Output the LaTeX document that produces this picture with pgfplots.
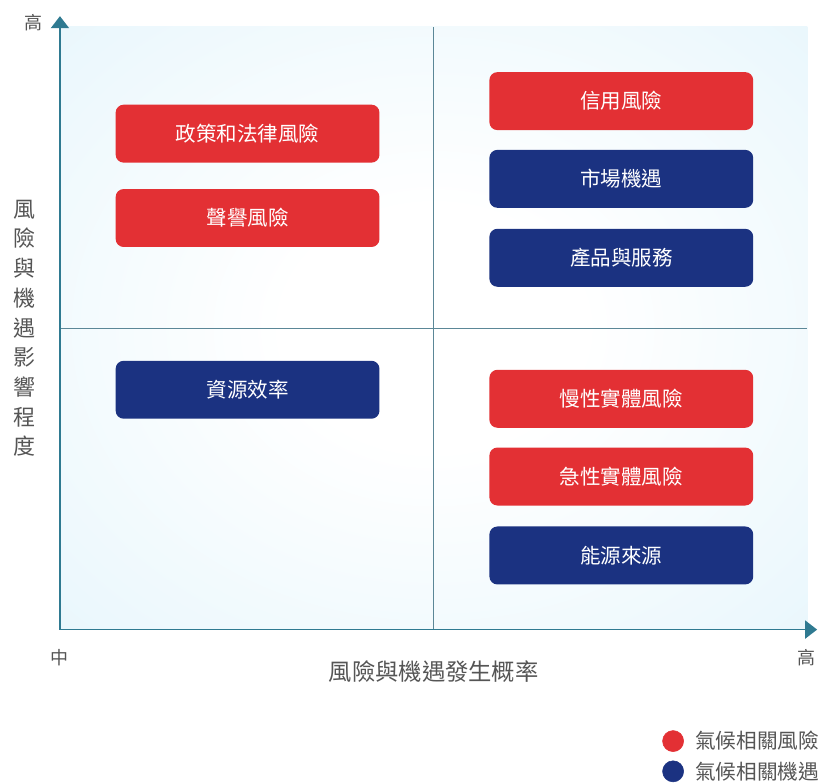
\documentclass[border=0pt]{standalone}
\usepackage{fontspec}
\setmainfont{Noto Sans CJK TC}
\usepackage{pgfplots}
\usepackage{pgfplotstable}
\pgfplotsset{compat=1.18}
\usetikzlibrary{arrows.meta}

\definecolor{riskred}{HTML}{E33034}
\definecolor{oppblue}{HTML}{1B3281}
\definecolor{axisteal}{HTML}{2F7A91}
\definecolor{bgblue}{HTML}{DFF3FB}
\definecolor{labelgray}{HTML}{555555}
\definecolor{quadline}{HTML}{5B8797}

\pgfdeclareradialshading{bgshade}{\pgfpoint{0bp}{0bp}}{%
  color(0bp)=(white); color(10bp)=(white); color(48bp)=(bgblue); color(100bp)=(bgblue)}

% box centres, x and y in 0..100
\pgfplotstableread{
x y label
25.1 82.3 政策和法律風險
25.1 68.3 聲譽風險
75.1 87.7 信用風險
75.1 38.3 慢性實體風險
75.1 25.4 急性實體風險
}\risks

\pgfplotstableread{
x y label
25.1 39.8 資源效率
75.1 74.8 市場機遇
75.1 61.7 產品與服務
75.1 12.3 能源來源
}\opps

\tikzset{
  box/.style={rounded corners=6pt, minimum width=198pt, minimum height=43.5pt,
    inner sep=0pt, draw=none, text=white, font=\fontsize{15.4}{18}\selectfont, anchor=center},
}

\begin{document}
\begin{tikzpicture}
\begin{axis}[
  scale only axis,
  width=561pt, height=452.25pt,
  xmin=0, xmax=100, ymin=0, ymax=100,
  xtick=\empty, ytick=\empty,
  axis line style={draw=none},
  clip=false,
  axis background/.style={shading=bgshade},
  legend style={at={(axis cs:80.55,-16.67)}, anchor=north west, draw=none, fill=none,
    inner sep=0pt, row sep=6.5pt, font=\fontsize{15.5}{18}\selectfont,
    nodes={inner sep=0pt, text=labelgray}},
  legend cell align=left,
]
% quadrant lines
\draw[quadline, line width=0.9pt] (axis cs:50,0) -- (axis cs:50,100);
\draw[quadline, line width=0.9pt] (axis cs:0,50) -- (axis cs:100,50);

% axes with arrows
\draw[axisteal, line width=1.3pt, -{Triangle[length=9pt, width=13.5pt]}]
  (axis cs:0,0) -- (axis cs:0,101.8);
\draw[axisteal, line width=1.3pt, -{Triangle[length=9pt, width=13.5pt]}]
  (axis cs:0,0) -- (axis cs:101.3,0);

\addplot[scatter, only marks, point meta=explicit symbolic,
  mark=*, mark size=0pt, mark options={draw=none, fill=none},
  scatter/@pre marker code/.code={\node[box, fill=riskred] at (0,0) {\pgfplotspointmeta};},
  scatter/@post marker code/.code={},
  legend image code/.code={\path[draw=none, fill=none] (0pt,0pt) rectangle (24.4pt,0pt);
    \fill[riskred] (7.9pt,0pt) circle (7.9pt);}]
  table[x=x, y=y, meta=label] {\risks};
\addlegendentry{氣候相關風險}

\addplot[scatter, only marks, point meta=explicit symbolic,
  mark=*, mark size=0pt, mark options={draw=none, fill=none},
  scatter/@pre marker code/.code={\node[box, fill=oppblue] at (0,0) {\pgfplotspointmeta};},
  scatter/@post marker code/.code={},
  legend image code/.code={\path[draw=none, fill=none] (0pt,0pt) rectangle (24.4pt,0pt);
    \fill[oppblue] (7.9pt,0pt) circle (7.9pt);}]
  table[x=x, y=y, meta=label] {\opps};
\addlegendentry{氣候相關機遇}

% axis texts
\node[text=labelgray, font=\fontsize{13.5}{16}\selectfont, inner sep=0pt] at (axis cs:-3.6,100.8) {高};
\node[text=labelgray, font=\fontsize{13.5}{16}\selectfont, inner sep=0pt] at (axis cs:0,-4.64) {中};
\node[text=labelgray, font=\fontsize{13.5}{16}\selectfont, inner sep=0pt] at (axis cs:99.9,-4.64) {高};
\node[text=labelgray, font=\fontsize{17.5}{20}\selectfont, inner sep=0pt] at (axis cs:50,-6.97) {風險與機遇發生概率};
\node[text=labelgray, font=\fontsize{16.5}{22.3}\selectfont, inner sep=0pt, align=center]
  at (axis cs:-4.8,50.0) {風\\險\\與\\機\\遇\\影\\響\\程\\度};

% page extent 819 x 784 px
\path (axis cs:-8.02,-25.54) rectangle (axis cs:101.47,104.48);
\end{axis}
\end{tikzpicture}
\end{document}
